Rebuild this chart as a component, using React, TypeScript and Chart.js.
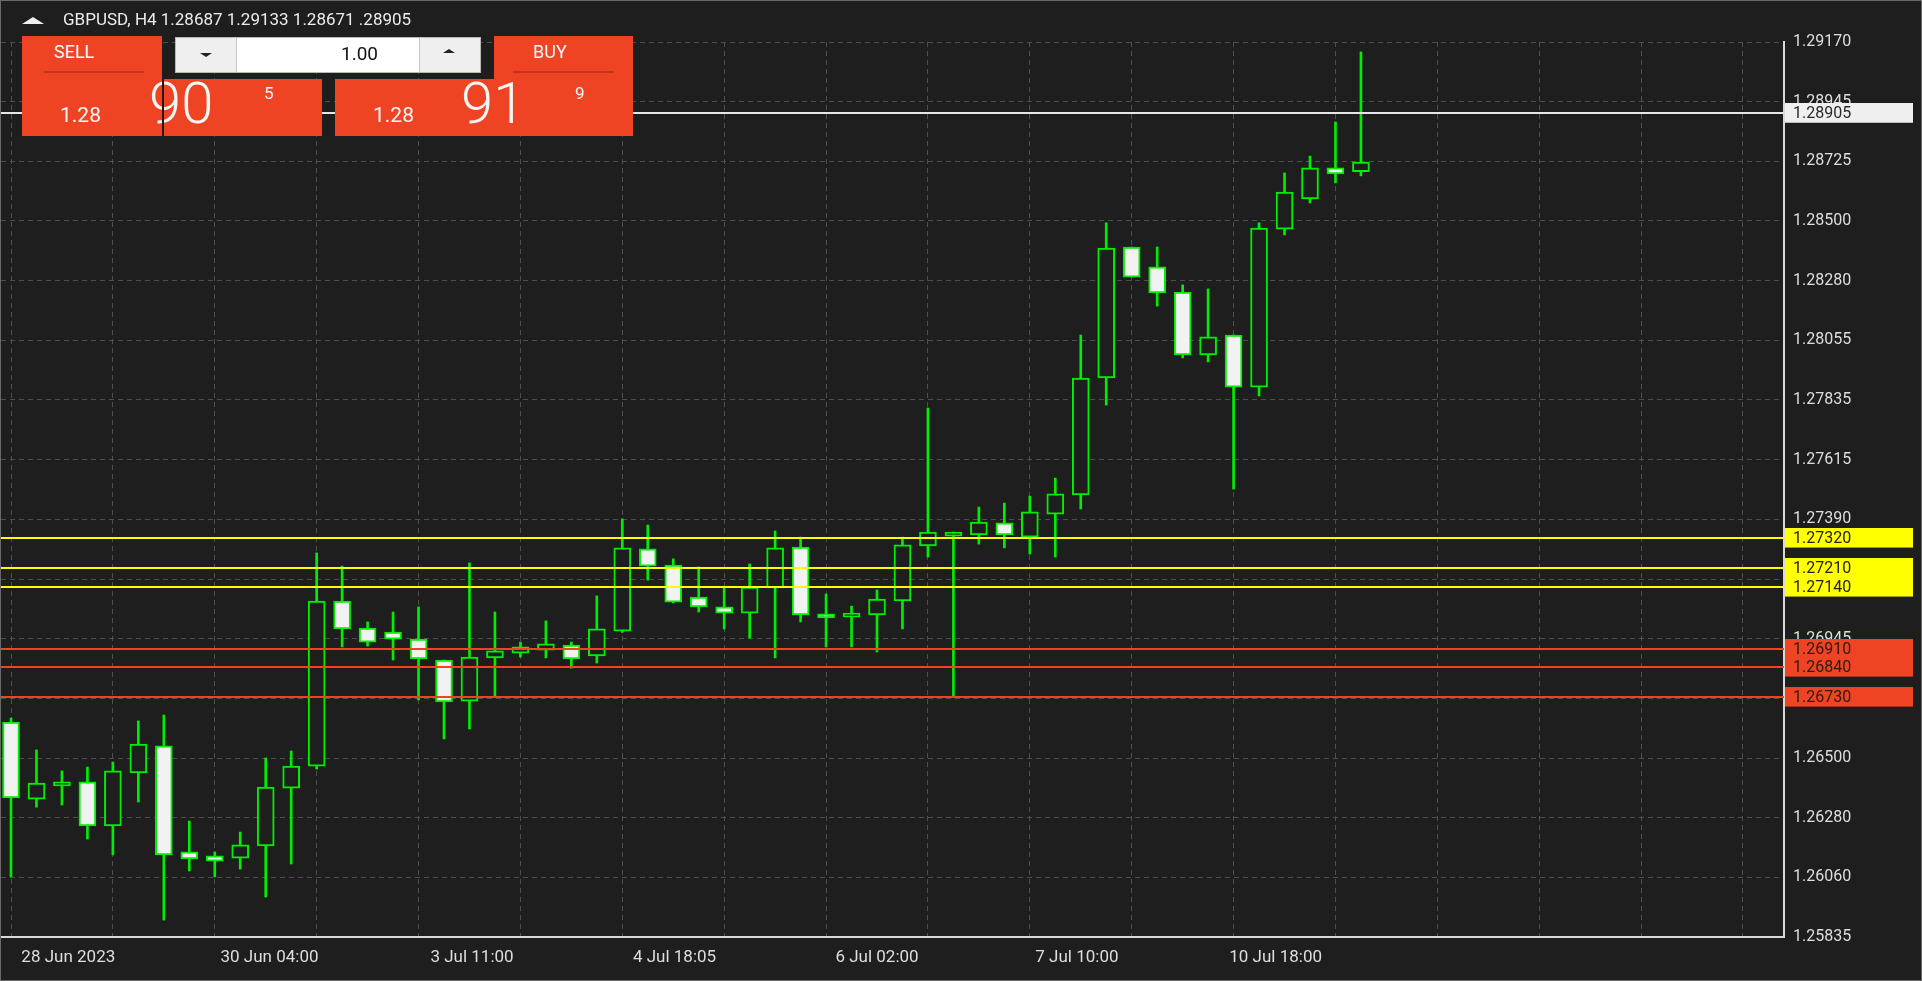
import React, { useEffect, useRef } from 'react';
import { Chart, registerables } from 'chart.js';

Chart.register(...registerables);

// ---------- data ----------
const symbolTitle = 'GBPUSD, H4 1.28687 1.29133 1.28671 .28905';

const opens = [
  1.26636, 1.26349, 1.26398, 1.26413, 1.26249, 1.26446, 1.26547, 1.26152, 1.26137, 1.26129,
  1.26174, 1.26390, 1.26472, 1.27087, 1.26986, 1.26971, 1.26945, 1.26867, 1.26714, 1.26875,
  1.26893, 1.26904, 1.26923, 1.26882, 1.26975, 1.27281, 1.27221, 1.27102, 1.27065, 1.27042,
  1.27136, 1.27288, 1.27039, 1.27027, 1.27035, 1.27087, 1.27292, 1.27329, 1.27333, 1.27378,
  1.27325, 1.27411, 1.27482, 1.27918, 1.28406, 1.28332, 1.28238, 1.28004, 1.28078, 1.27884,
  1.28473, 1.28585, 1.28701, 1.28687,
];
const highs = [
  1.26651, 1.26532, 1.26454, 1.26468, 1.26487, 1.26640, 1.26662, 1.26267, 1.26152, 1.26226,
  1.26502, 1.26528, 1.27266, 1.27217, 1.27009, 1.27046, 1.27065, 1.26867, 1.27229, 1.27046,
  1.26934, 1.27013, 1.26934, 1.27106, 1.27393, 1.27370, 1.27244, 1.27214, 1.27136, 1.27225,
  1.27348, 1.27325, 1.27113, 1.27068, 1.27128, 1.27325, 1.27806, 1.27344, 1.27437, 1.27452,
  1.27478, 1.27545, 1.28078, 1.28496, 1.28406, 1.28406, 1.28265, 1.28250, 1.28078, 1.28496,
  1.28682, 1.28745, 1.28872, 1.29133,
];
const lows = [
  1.26059, 1.26319, 1.26327, 1.26200, 1.26141, 1.26338, 1.25898, 1.26081, 1.26059, 1.26088,
  1.25984, 1.26107, 1.26461, 1.26916, 1.26919, 1.26867, 1.26718, 1.26573, 1.26610, 1.26729,
  1.26878, 1.26875, 1.26837, 1.26856, 1.26970, 1.27165, 1.27080, 1.27046, 1.26983, 1.26949,
  1.26875, 1.27009, 1.26916, 1.26916, 1.26897, 1.26983, 1.27251, 1.26733, 1.27299, 1.27285,
  1.27262, 1.27251, 1.27430, 1.27817, 1.28294, 1.28186, 1.27993, 1.27978, 1.27504, 1.27851,
  1.28451, 1.28570, 1.28645, 1.28671,
];
const closes = [
  1.26353, 1.26409, 1.26413, 1.26249, 1.26454, 1.26554, 1.26141, 1.26126, 1.26118, 1.26178,
  1.26394, 1.26472, 1.27087, 1.26983, 1.26934, 1.26945, 1.26871, 1.26711, 1.26878, 1.26901,
  1.26916, 1.26927, 1.26871, 1.26983, 1.27285, 1.27217, 1.27083, 1.27065, 1.27042, 1.27139,
  1.27285, 1.27035, 1.27024, 1.27042, 1.27094, 1.27296, 1.27344, 1.27344, 1.27381, 1.27333,
  1.27419, 1.27486, 1.27918, 1.28402, 1.28294, 1.28235, 1.28004, 1.28071, 1.27884, 1.28477,
  1.28611, 1.28701, 1.28678, 1.28723,
];

const xLabelText = ['28 Jun 2023', '30 Jun 04:00', '3 Jul 11:00', '4 Jul 18:05', '6 Jul 02:00', '7 Jul 10:00', '10 Jul 18:00'];
const xLabelPos = [2.25, 10.15, 18.1, 26.05, 34.0, 41.85, 49.65];
const xGridPos = [0, 4, 8, 12, 16, 20, 24, 28, 32, 36, 40, 44, 48, 52, 56, 60, 64, 68];

const yTickLabels = [
  '1.29170', '1.28945', '1.28725', '1.28500', '1.28280', '1.28055', '1.27835', '1.27615',
  '1.27390', '1.27170', '1.26945', '1.26725', '1.26500', '1.26280', '1.26060', '1.25835',
];
const yMin = 1.25835;
const yMax = 1.2917;

const resistanceLevels = [1.2732, 1.2721, 1.2714];
const supportLevels = [1.2691, 1.2684, 1.2673];
const currentPrice = 1.28905;

const quantity = '1.00';
const sellQuote = ['1.28', '90', '5'];
const buyQuote = ['1.28', '91', '9'];

// ---------- style ----------
const BG = '#1e1e1e';
const GREEN = '#00ee00';
const WHITE = '#f2f2f2';
const RED = '#ef4423';
const YELLOW = '#ffff00';
const AXIS = '#d8d8d8';
const GRID = '#4e4e4e';
const TEXT = '#dedede';
const FONT = 'Roboto, "Noto Sans", sans-serif';
const X_MIN = -0.3926;
const X_MAX = 69.61;

const fmt = (v: number) => v.toFixed(5);

const levelsPlugin = {
  id: 'levels',
  afterDatasetsDraw(chart: any) {
    const { ctx, chartArea, scales } = chart;
    const y = scales.y;
    const line = (v: number, color: string) => {
      const py = Math.round(y.getPixelForValue(v));
      ctx.save();
      ctx.strokeStyle = color;
      ctx.lineWidth = 2;
      ctx.beginPath();
      ctx.moveTo(0, py);
      ctx.lineTo(chartArea.right, py);
      ctx.stroke();
      ctx.restore();
    };
    resistanceLevels.forEach((v) => line(v, YELLOW));
    supportLevels.forEach((v) => line(v, RED));
    line(currentPrice, '#e6e6e6');
  },
  afterDraw(chart: any) {
    const { ctx, chartArea, scales } = chart;
    const y = scales.y;
    const box = (v: number, fill: string, edge: string, textColor: string) => {
      const py = Math.round(y.getPixelForValue(v));
      const x0 = chartArea.right + 1;
      ctx.save();
      ctx.fillStyle = fill;
      ctx.fillRect(x0, py - 10, 1913 - x0, 20);
      ctx.fillStyle = edge;
      ctx.fillRect(x0, py + 9, 1913 - x0, 1);
      ctx.fillStyle = textColor;
      ctx.font = `16px ${FONT}`;
      ctx.textBaseline = 'middle';
      ctx.textAlign = 'left';
      ctx.fillText(fmt(v), chartArea.right + 9, py + 1);
      ctx.restore();
    };
    resistanceLevels.forEach((v) => box(v, YELLOW, '#9c9c10', '#222'));
    supportLevels.forEach((v) => box(v, RED, '#a8301a', '#2a1a16'));
    box(currentPrice, '#efefef', '#bdbdbd', '#2a2a2a');
  },
};

function Txt(props: { left: number; top: number; size: number; children: any; weight?: number; color?: string }) {
  return (
    <div
      style={{
        position: 'absolute',
        left: props.left,
        top: props.top,
        fontFamily: FONT,
        fontSize: props.size,
        lineHeight: `${props.size}px`,
        fontWeight: props.weight ?? 400,
        color: props.color ?? '#f6f6f6',
        whiteSpace: 'nowrap',
      }}
    >
      {props.children}
    </div>
  );
}

export default function App() {
  const canvasRef = useRef<HTMLCanvasElement>(null);

  useEffect(() => {
    const canvas = canvasRef.current;
    if (!canvas) return;
    const idx = opens.map((_, i) => i);
    const yLabelsAsc = [...yTickLabels].reverse();
    const chart = new Chart(canvas, {
      type: 'bar',
      data: {
        datasets: [
          {
            label: 'body',
            data: idx.map((i) => ({ x: i, y: [opens[i], closes[i]] })) as any,
            backgroundColor: idx.map((i) => (closes[i] >= opens[i] ? BG : WHITE)),
            borderColor: GREEN,
            borderWidth: 2,
            borderSkipped: false,
            barThickness: 17,
            grouped: false,
            order: 0,
          } as any,
          {
            label: 'wick',
            data: idx.map((i) => ({ x: i, y: [lows[i], highs[i]] })) as any,
            backgroundColor: GREEN,
            borderWidth: 0,
            barThickness: 2,
            grouped: false,
            order: 1,
          } as any,
        ],
      },
      options: {
        responsive: false,
        animation: false,
        devicePixelRatio: 1,
        layout: { padding: { left: 1, top: 42, right: 0, bottom: 0 } },
        plugins: { legend: { display: false }, tooltip: { enabled: false } },
        scales: {
          x: {
            type: 'linear',
            min: X_MIN,
            max: X_MAX,
            offset: false,
            afterBuildTicks: (s: any) => {
              const t = [
                ...xGridPos.map((v) => ({ value: v, kind: 'grid', text: '' })),
                ...xLabelPos.map((v, k) => ({ value: v, kind: 'label', text: xLabelText[k] })),
              ].sort((a, b) => a.value - b.value);
              s.ticks = t;
            },
            afterFit: (s: any) => {
              s.height = 44;
            },
            grid: {
              offset: false,
              drawTicks: false,
              lineWidth: 1,
              color: (c: any) => (c.tick && c.tick.kind === 'label' ? 'rgba(0,0,0,0)' : GRID),
            },
            border: { display: true, color: AXIS, width: 2, dash: [5, 4] },
            ticks: {
              autoSkip: false,
              maxRotation: 0,
              minRotation: 0,
              padding: 11,
              color: TEXT,
              font: { family: FONT, size: 17 },
              callback: (_v: any, i: number, ticks: any[]) => (ticks[i] && ticks[i].text) || '',
            },
          } as any,
          y: {
            type: 'linear',
            position: 'right',
            min: yMin,
            max: yMax,
            beginAtZero: false,
            afterBuildTicks: (s: any) => {
              const n = yLabelsAsc.length;
              s.ticks = yLabelsAsc.map((_, k) => ({ value: yMin + ((yMax - yMin) * k) / (n - 1) }));
            },
            afterFit: (s: any) => {
              s.width = 138;
            },
            grid: { drawTicks: false, lineWidth: 1, color: GRID },
            border: { display: true, color: AXIS, width: 2, dash: [5, 4] },
            ticks: {
              autoSkip: false,
              padding: 9,
              color: TEXT,
              font: { family: FONT, size: 16 },
              callback: (_v: any, i: number) => yLabelsAsc[i],
            },
          } as any,
        },
      },
      plugins: [levelsPlugin as any],
    });
    return () => chart.destroy();
  }, []);

  return (
    <div
      style={{
        position: 'fixed',
        left: 0,
        top: 0,
        width: 1922,
        height: 981,
        background: BG,
        overflow: 'hidden',
      }}
    >
      <canvas ref={canvasRef} width={1922} height={981} style={{ display: 'block', position: 'absolute', left: 0, top: 0 }} />

      {/* title row */}
      <div
        style={{
          position: 'absolute',
          left: 22,
          top: 17,
          width: 0,
          height: 0,
          borderLeft: '11px solid transparent',
          borderRight: '11px solid transparent',
          borderBottom: '7px solid #f0f0f0',
        }}
      />
      <Txt left={63} top={11} size={17} color="#ececec">
        {symbolTitle}
      </Txt>

      {/* SELL */}
      <div style={{ position: 'absolute', left: 22, top: 36, width: 140, height: 100, background: RED }} />
      <div style={{ position: 'absolute', left: 164, top: 79, width: 158, height: 57, background: RED }} />
      <Txt left={54} top={43} size={18}>SELL</Txt>
      <div style={{ position: 'absolute', left: 44, top: 71, width: 100, height: 2, background: '#c5331b' }} />
      <Txt left={60} top={105} size={21}>{sellQuote[0]}</Txt>
      <Txt left={149} top={74} size={58} weight={300}>{sellQuote[1]}</Txt>
      <Txt left={264} top={85} size={17}>{sellQuote[2]}</Txt>
      <div style={{ position: 'absolute', left: 162, top: 79, width: 2, height: 57, background: '#2a1410' }} />

      {/* BUY */}
      <div style={{ position: 'absolute', left: 494, top: 36, width: 139, height: 100, background: RED }} />
      <div style={{ position: 'absolute', left: 335, top: 79, width: 298, height: 57, background: RED }} />
      <Txt left={533} top={43} size={18}>BUY</Txt>
      <div style={{ position: 'absolute', left: 513, top: 71, width: 101, height: 2, background: '#c5331b' }} />
      <Txt left={373} top={105} size={21}>{buyQuote[0]}</Txt>
      <Txt left={461} top={74} size={58} weight={300}>{buyQuote[1]}</Txt>
      <Txt left={575} top={85} size={17}>{buyQuote[2]}</Txt>

      {/* quantity control */}
      <div
        style={{
          position: 'absolute',
          left: 175,
          top: 37,
          width: 306,
          height: 36,
          background: '#ffffff',
          border: '1px solid #b8b8b8',
          boxSizing: 'border-box',
        }}
      >
        <div style={{ position: 'absolute', left: 0, top: 0, width: 60, height: 34, background: '#efefef', borderRight: '1px solid #c6c6c6' }} />
        <div style={{ position: 'absolute', right: 0, top: 0, width: 60, height: 34, background: '#efefef', borderLeft: '1px solid #c6c6c6' }} />
      </div>
      <div
        style={{
          position: 'absolute',
          left: 200,
          top: 53,
          width: 0,
          height: 0,
          borderLeft: '6px solid transparent',
          borderRight: '6px solid transparent',
          borderTop: '4px solid #222',
        }}
      />
      <div
        style={{
          position: 'absolute',
          left: 443,
          top: 49,
          width: 0,
          height: 0,
          borderLeft: '6px solid transparent',
          borderRight: '6px solid transparent',
          borderBottom: '4px solid #222',
        }}
      />
      <div
        style={{
          position: 'absolute',
          left: 290,
          top: 44,
          width: 88,
          textAlign: 'right',
          fontFamily: FONT,
          fontSize: 19,
          lineHeight: '19px',
          color: '#111',
        }}
      >
        {quantity}
      </div>

      {/* frame */}
      <div
        style={{
          position: 'absolute',
          left: 0,
          top: 0,
          width: 1922,
          height: 981,
          boxSizing: 'border-box',
          border: '1px solid #6a6a6a',
          pointerEvents: 'none',
        }}
      />
    </div>
  );
}
